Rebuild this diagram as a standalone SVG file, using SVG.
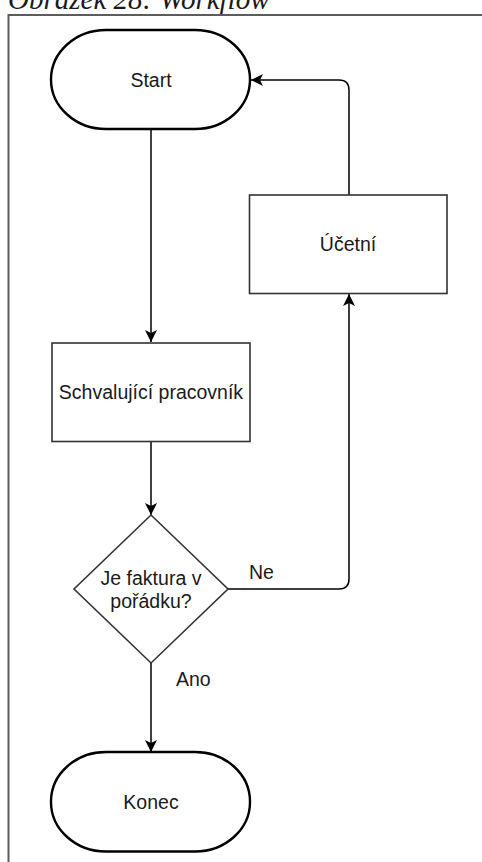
<svg xmlns="http://www.w3.org/2000/svg" width="482" height="862" viewBox="0 0 482 862">
  <style>
    .caption { font-family: "Liberation Serif", "Times New Roman", serif; font-style: italic; font-size: 29px; fill: #1a1a1a; }
    .lbl { font-family: "Liberation Sans", Arial, sans-serif; font-size: 19.5px; fill: #1a1a1a; text-anchor: middle; }
    .edge-lbl { font-family: "Liberation Sans", Arial, sans-serif; font-size: 19.5px; fill: #1a1a1a; }
    .term { fill: #ffffff; stroke: #000000; stroke-width: 2.4; }
    .proc { fill: #ffffff; stroke: #333333; stroke-width: 1.6; }
    .conn { fill: none; stroke: #000000; stroke-width: 1.5; }
    .frame { fill: none; stroke: #5c5c5c; stroke-width: 2; }
  </style>
  <defs>
    <marker id="arrow" viewBox="-13 -7 14 14" refX="0" refY="0" markerWidth="14" markerHeight="14" markerUnits="userSpaceOnUse" orient="auto">
      <path d="M0,0 L-12,-6 L-9,0 L-12,6 Z" fill="#000000"/>
    </marker>
  </defs>

  <rect width="482" height="862" fill="#ffffff"/>

  <!-- caption and page frame -->
  <text class="caption" x="8" y="8.5">Obrázek 28: Workflow</text>
  <path class="frame" d="M8.5,862 V15 H482"/>

  <!-- connectors -->
  <g id="connectors">
    <path class="conn" d="M151,129 V342" marker-end="url(#arrow)"/>
    <path class="conn" d="M151,442 V515" marker-end="url(#arrow)"/>
    <path class="conn" d="M151,663 V752" marker-end="url(#arrow)"/>
    <path class="conn" d="M228,589 H339 Q349,589 349,579 V294" marker-end="url(#arrow)"/>
    <path class="conn" d="M349,195 V90 Q349,80 339,80 H251" marker-end="url(#arrow)"/>
    <text class="edge-lbl" x="249" y="579">Ne</text>
    <text class="edge-lbl" x="176" y="686">Ano</text>
  </g>

  <g id="start">
    <rect class="term" x="51" y="30" width="199" height="99" rx="55" ry="49.5"/>
    <text class="lbl" x="151" y="87">Start</text>
  </g>

  <g id="ucetni">
    <rect class="proc" x="249.5" y="195" width="197.5" height="98.5"/>
    <text class="lbl" x="348" y="251">Účetní</text>
  </g>

  <g id="schvalujici">
    <rect class="proc" x="52" y="343" width="198" height="98.5"/>
    <text class="lbl" x="151" y="399">Schvalující pracovník</text>
  </g>

  <g id="decision">
    <polygon class="proc" points="151,515 228,589 151,663 74,589"/>
    <text class="lbl" x="151" y="585">Je faktura v</text>
    <text class="lbl" x="151" y="608">pořádku?</text>
  </g>

  <g id="konec">
    <rect class="term" x="51" y="752" width="199" height="99.5" rx="55" ry="49.5"/>
    <text class="lbl" x="151" y="809">Konec</text>
  </g>
</svg>
